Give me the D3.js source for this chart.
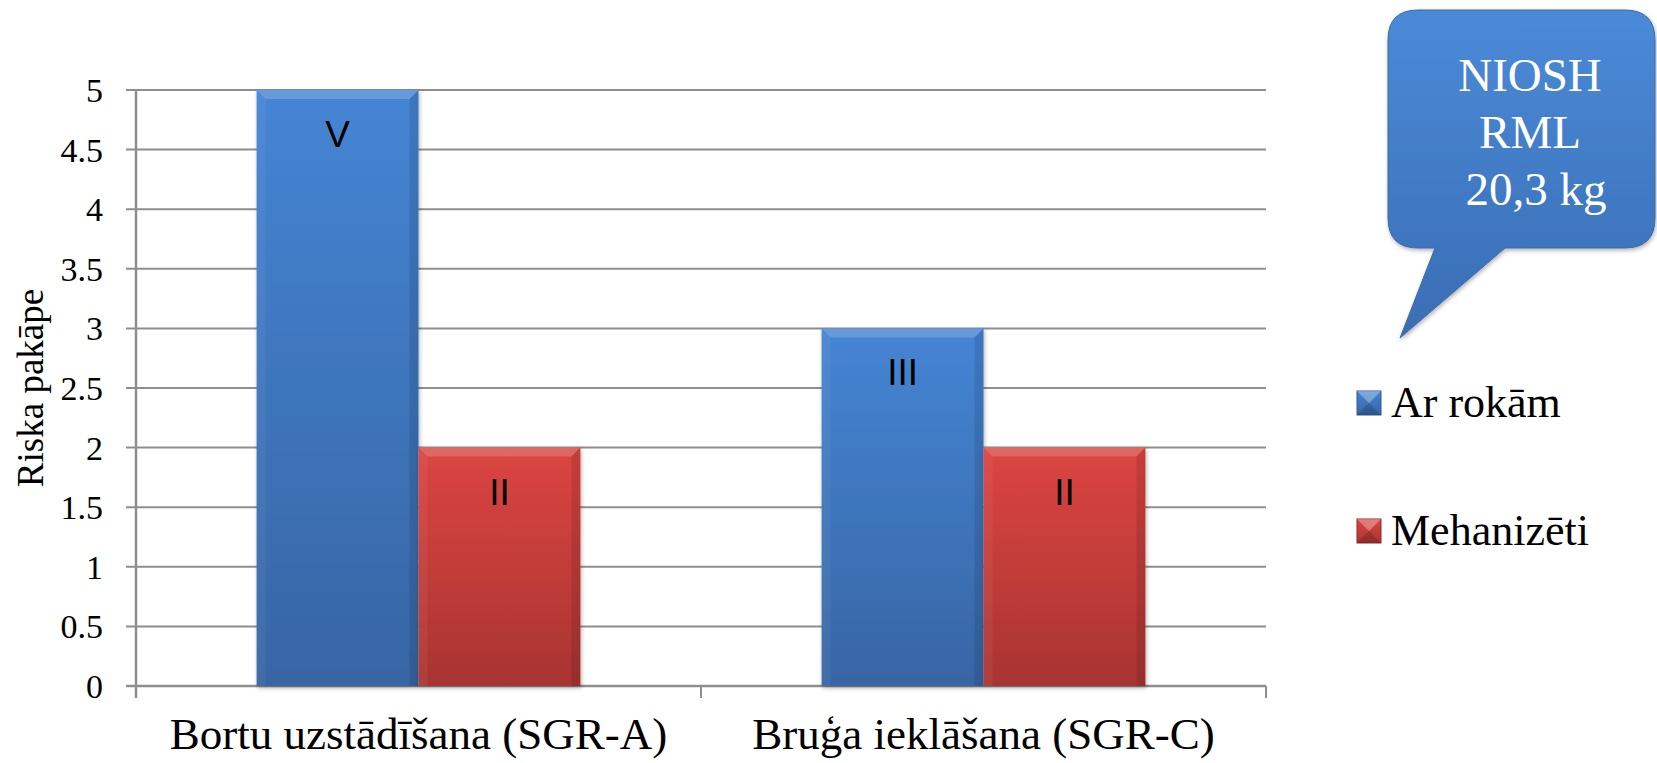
<!DOCTYPE html>
<html>
<head>
<meta charset="utf-8">
<script src="https://cdn.jsdelivr.net/npm/d3@7"></script>
<style>
	body { margin: 0; background: #ffffff; }
	text { font-family: "Liberation Serif", monospace; }
	.tick text { font-family: "Liberation Serif", monospace; fill: #000; }
	text.barlabel { font-family: "Liberation Sans", Arial, sans-serif; }
</style>
</head>
<body>
<div id="plot"></div>
<script>

	// chart values

	const categories = ["Bortu uzstādīšana (SGR-A)", "Bruģa ieklāšana (SGR-C)"];
	const seriesNames = ["Ar rokām", "Mehanizēti"];
	const arRokam = [5, 3];
	const mehanizeti = [2, 2];
	const arRokamLabels = ["V", "III"];
	const mehanizetiLabels = ["II", "II"];
	const yTicks = [0, 0.5, 1, 1.5, 2, 2.5, 3, 3.5, 4, 4.5, 5];
	const yTitle = "Riska pakāpe";
	const calloutLines = ["NIOSH", "RML", "\u00a020,3 kg"];

	const w = 1657;
	const h = 763;
	const margin = {top: 90, right: 391, bottom: 77, left: 136};
	const innerWidth = w - margin.left - margin.right;
	const innerHeight = h - margin.top - margin.bottom;

	const gridColor = "#8e8e8e";

	const bardata = categories.map((c, i) => ({
		category: c,
		values: [
			{series: seriesNames[0], value: arRokam[i], label: arRokamLabels[i]},
			{series: seriesNames[1], value: mehanizeti[i], label: mehanizetiLabels[i]}
		]
	}));

	let x0 = d3.scaleBand()
		.domain(categories)
		.range([0, innerWidth]);

	let x1 = d3.scaleBand()
		.domain(seriesNames)
		.range([0, x0.bandwidth()])
		.paddingInner(0)
		.paddingOuter(0.745);

	let yScale = d3.scaleLinear()
		.domain([0, 5])
		.range([innerHeight, 0]);

	const svg = d3.select("div#plot")
		.append("svg")
		.attr("width", w)
		.attr("height", h);

	// gradients

	const defs = svg.append("defs");

	function vGrad(id, top, bottom) {
		const g = defs.append("linearGradient")
			.attr("id", id)
			.attr("x1", 0).attr("y1", 0)
			.attr("x2", 0).attr("y2", 1);
		g.append("stop").attr("offset", "0%").attr("stop-color", top);
		g.append("stop").attr("offset", "100%").attr("stop-color", bottom);
	}
	vGrad("gradBlue", "#4585d4", "#3765a4");
	vGrad("gradRed", "#dc4541", "#a83432");
	vGrad("gradCallout", "#4a8ad8", "#3a6db4");

	const shadow = defs.append("filter").attr("id", "shadow")
		.attr("x", "-10%").attr("y", "-10%").attr("width", "130%").attr("height", "130%");
	shadow.append("feDropShadow")
		.attr("dx", 1).attr("dy", 2).attr("stdDeviation", 2)
		.attr("flood-color", "#000").attr("flood-opacity", 0.3);

	const color = d3.scaleOrdinal()
		.domain(seriesNames)
		.range(["url(#gradBlue)", "url(#gradRed)"]);

	const plot = svg.append("g")
		.attr("transform", `translate (${margin.left}, ${margin.top})`);

	// gridlines (with small outward tick)

	plot.append("g")
		.attr("class", "grid")
		.selectAll("line")
		.data(yTicks)
		.enter().append("line")
		.attr("x1", -10)
		.attr("x2", innerWidth)
		.attr("y1", d => yScale(d))
		.attr("y2", d => yScale(d))
		.attr("stroke", gridColor)
		.attr("stroke-width", d => d === 0 ? 2.5 : 2);

	// y axis labels

	let yAxis = d3.axisLeft()
		.scale(yScale)
		.tickValues(yTicks)
		.tickFormat(d => String(d))
		.tickSize(10)
		.tickPadding(23);

	const yAx = plot.append("g")
		.attr("class", "yAxis")
		.call(yAxis)
		.attr("font-family", null);
	yAx.select(".domain").remove();
	yAx.selectAll(".tick line").remove();
	yAx.selectAll(".tick text")
		.attr("font-size", 34)
		.attr("dy", "0.34em");

	plot.append("line")
		.attr("x1", 0).attr("x2", 0)
		.attr("y1", 0).attr("y2", innerHeight + 12)
		.attr("stroke", gridColor)
		.attr("stroke-width", 2.5);

	// bars

	const groups = plot.append("g")
		.selectAll("g")
		.data(bardata)
		.enter().append("g")
		.attr("transform", d => `translate (${x0(d.category)}, 0)`);

	const bars = groups.selectAll("g.bar")
		.data(d => d.values)
		.enter().append("g")
		.attr("class", "bar");

	const bw = x1.bandwidth();
	const bev = 9;

	bars.append("rect")
		.attr("x", d => x1(d.series))
		.attr("y", d => yScale(d.value))
		.attr("width", bw)
		.attr("height", d => innerHeight - yScale(d.value))
		.attr("fill", d => color(d.series))
		.attr("filter", "url(#shadow)");

	// bevel: lighter top, lighter left, darker right
	bars.append("path")
		.attr("d", d => {
			const x = x1(d.series), y = yScale(d.value);
			return `M${x},${y}L${x + bw},${y}L${x + bw - bev},${y + bev}L${x + bev},${y + bev}Z`;
		})
		.attr("fill", "#fff")
		.attr("opacity", 0.18);

	bars.append("path")
		.attr("d", d => {
			const x = x1(d.series), y = yScale(d.value), b = innerHeight;
			return `M${x},${y}L${x + bev},${y + bev}L${x + bev},${b}L${x},${b}Z`;
		})
		.attr("fill", "#fff")
		.attr("opacity", 0.05);

	bars.append("path")
		.attr("d", d => {
			const x = x1(d.series), y = yScale(d.value), b = innerHeight;
			return `M${x + bw},${y}L${x + bw},${b}L${x + bw - bev},${b}L${x + bw - bev},${y + bev}Z`;
		})
		.attr("fill", "#000")
		.attr("opacity", 0.1);

	bars.append("text")
		.attr("class", "barlabel")
		.attr("x", d => x1(d.series) + bw / 2)
		.attr("y", d => yScale(d.value) + 57)
		.attr("text-anchor", "middle")
		.attr("font-size", 37)
		.attr("fill", "#000")
		.text(d => d.label);

	// x axis: boundary ticks and category labels

	plot.append("g")
		.selectAll("line")
		.data(categories)
		.enter().append("line")
		.attr("x1", d => x0(d) + x0.bandwidth())
		.attr("x2", d => x0(d) + x0.bandwidth())
		.attr("y1", innerHeight)
		.attr("y2", innerHeight + 12)
		.attr("stroke", gridColor)
		.attr("stroke-width", 2);

	let xAxis = d3.axisBottom()
		.scale(x0)
		.tickSize(0)
		.tickPadding(33);

	const xAx = plot.append("g")
		.attr("class", "xAxis")
		.attr("transform", `translate (0, ${innerHeight})`)
		.call(xAxis)
		.attr("font-family", null);
	xAx.select(".domain").remove();
	xAx.selectAll(".tick text")
		.attr("font-size", 45)
		.attr("dy", "0.66em");

	// y title

	svg.append("text")
		.attr("transform", `translate (43, ${margin.top + innerHeight / 2}) rotate(-90)`)
		.attr("text-anchor", "middle")
		.attr("font-size", 37)
		.attr("fill", "#000")
		.text(yTitle);

	// legend

	const legend = svg.append("g")
		.selectAll("g")
		.data(seriesNames)
		.enter().append("g")
		.attr("transform", (d, i) => `translate (1357, ${391 + i * 128})`);

	legend.append("rect")
		.attr("width", 24)
		.attr("height", 24)
		.attr("fill", d => color(d))
		.attr("stroke", d => d === seriesNames[0] ? "#2f5a92" : "#8e2b2a")
		.attr("stroke-width", 1);

	legend.append("path")
		.attr("d", "M0,0L24,0L12,12Z")
		.attr("fill", "#fff")
		.attr("opacity", 0.3);

	legend.append("path")
		.attr("d", "M0,24L24,24L12,12Z")
		.attr("fill", "#000")
		.attr("opacity", 0.15);

	legend.append("text")
		.attr("x", 34)
		.attr("y", 26)
		.attr("font-size", 44)
		.attr("fill", "#000")
		.text(d => d);

	// callout bubble

	const callout = svg.append("g")
		.attr("filter", "url(#shadow)");

	const cx0 = 1388, cy0 = 10, cx1 = 1655, cy1 = 248, r = 30;
	callout.append("path")
		.attr("d", `M${cx0 + r},${cy0}L${cx1 - r},${cy0}Q${cx1},${cy0} ${cx1},${cy0 + r}`
			+ `L${cx1},${cy1 - r}Q${cx1},${cy1} ${cx1 - r},${cy1}`
			+ `L1505,${cy1}L1400,338L1435,${cy1}`
			+ `L${cx0 + r},${cy1}Q${cx0},${cy1} ${cx0},${cy1 - r}`
			+ `L${cx0},${cy0 + r}Q${cx0},${cy0} ${cx0 + r},${cy0}Z`)
		.attr("fill", "url(#gradCallout)")
		.attr("stroke", "#3a6aab")
		.attr("stroke-width", 1);

	svg.append("g")
		.selectAll("text")
		.data(calloutLines)
		.enter().append("text")
		.attr("x", 1530)
		.attr("y", (d, i) => 91 + i * 57)
		.attr("text-anchor", "middle")
		.attr("font-size", 47)
		.attr("fill", "#fff")
		.text(d => d);

</script>
</body>
</html>
